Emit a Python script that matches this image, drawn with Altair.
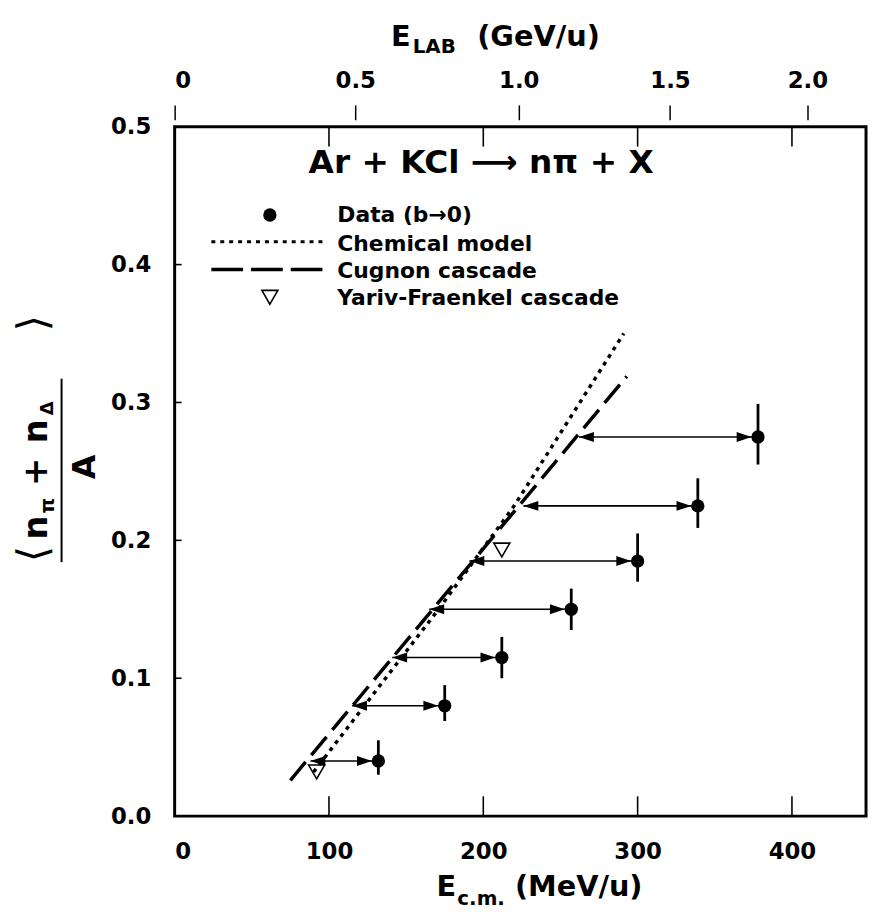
import altair as alt
import pandas as pd

# ---- data ----
ecm = [132, 175, 212, 257, 300, 339, 378]
ratio = [0.040, 0.080, 0.115, 0.150, 0.185, 0.225, 0.275]
err_lo = [0.030, 0.069, 0.100, 0.135, 0.170, 0.209, 0.255]
err_hi = [0.055, 0.095, 0.130, 0.165, 0.205, 0.245, 0.299]
ecm_shift = [88, 115, 141, 165, 191, 226, 262]

chem_x = [90, 171, 220, 291]
chem_y = [0.032, 0.150, 0.225, 0.350]

cug_x = [75, 293]
cug_y = [0.026, 0.319]

yf_x = [92, 212]
yf_y = [0.032, 0.193]

bottom_ticks = [0, 100, 200, 300, 400]
inner_ticks = [100, 200, 300, 400]
y_ticks = [0.0, 0.1, 0.2, 0.3, 0.4, 0.5]
y_inner_ticks = [0.1, 0.2, 0.3, 0.4]
elab_labels = ["0", "0.5", "1.0", "1.5", "2.0"]
elab_ecm = [0, 117, 223, 321, 410]

legend_labels = ["Data (b\u21920)", "Chemical model", "Cugnon cascade", "Yariv-Fraenkel cascade"]

# ---- layout ----
W, H = 697, 695
FONT = "DejaVu Sans"
BOLD = "bold"
XD = [0, 448]
YD = [0, 0.5]

pts = pd.DataFrame({"x": ecm, "y": ratio, "lo": err_lo, "hi": err_hi, "xs": ecm_shift})
chem = pd.DataFrame({"x": chem_x, "y": chem_y})
cug = pd.DataFrame({"x": cug_x, "y": cug_y})
yf = pd.DataFrame({"x": yf_x, "y": yf_y})

yaxis = alt.Axis(values=y_ticks, format=".1f", tickSize=0, labelPadding=24, labelFontSize=23,
                 labelFont=FONT, labelFontWeight=BOLD, labelColor="black", domain=False,
                 grid=False, title=None)


def X(field, axis=None):
    return alt.X(f"{field}:Q", scale=alt.Scale(domain=XD, nice=False, zero=False), axis=axis)


def Y(field):
    return alt.Y(f"{field}:Q", scale=alt.Scale(domain=YD, nice=False, zero=False), axis=yaxis)


bottom_axis = alt.Axis(orient="bottom", values=bottom_ticks, tickSize=0, labelPadding=25,
                       labelFontSize=23, labelFont=FONT, labelFontWeight=BOLD, labelColor="black",
                       domain=False, grid=False, title=None)

expr = "''"
for lab, pos in zip(elab_labels[::-1], elab_ecm[::-1]):
    expr = f"datum.value == {pos} ? '{lab}' : ({expr})"

top_axis = alt.Axis(orient="top", values=elab_ecm, labelExpr=expr, tickSize=15, tickWidth=1.5,
                    tickColor="black", offset=7, labelPadding=13, labelFontSize=23,
                    labelFont=FONT, labelFontWeight=BOLD, labelColor="black",
                    domain=False, grid=False, title=None)

cug_line = alt.Chart(cug).mark_line(color="black", strokeWidth=3.5, strokeDash=[24, 9]).encode(
    x=X("x", bottom_axis), y=Y("y"))

chem_line = alt.Chart(chem).mark_line(color="black", strokeWidth=3.5, strokeDash=[4, 5]).encode(
    x=X("x", top_axis), y=Y("y"), order="x:Q")

arrows = alt.Chart(pts).mark_rule(color="black", strokeWidth=1.6).encode(
    x=X("xs"), x2="x", y=Y("y"))

left_heads = alt.Chart(pts).mark_point(shape="M0,0L3,-1L3,1Z", filled=True, color="black",
                                       size=100, opacity=1).encode(x=X("xs"), y=Y("y"))
right_heads = alt.Chart(pts).mark_point(shape="M-1.3,0L-4.3,-1L-4.3,1Z", filled=True, color="black",
                                        size=100, opacity=1).encode(x=X("x"), y=Y("y"))

errbars = alt.Chart(pts).mark_rule(color="black", strokeWidth=2.8).encode(
    x=X("x"), y=Y("lo"), y2="hi")

dots = alt.Chart(pts).mark_point(shape="circle", filled=True, color="black", size=180,
                                 opacity=1).encode(x=X("x"), y=Y("y"))

tris = alt.Chart(yf).mark_point(shape="triangle-down", filled=False, color="black", size=260,
                                strokeWidth=1.6, opacity=1).encode(x=X("x"), y=Y("y"))

tick_df = pd.DataFrame({"x": inner_ticks})
bticks = alt.Chart(tick_df).mark_rule(color="black", strokeWidth=1.6).encode(
    x=X("x"), y=alt.value(H), y2=alt.value(H - 20))
tticks = alt.Chart(tick_df).mark_rule(color="black", strokeWidth=1.6).encode(
    x=X("x"), y=alt.value(0), y2=alt.value(20))
lticks = alt.Chart(pd.DataFrame({"y": y_inner_ticks})).mark_rule(color="black", strokeWidth=1.6).encode(
    y=Y("y"), x=alt.value(0), x2=alt.value(7))


def txt(s, x, y, size, align="left", angle=0, baseline="middle", weight=BOLD):
    return alt.Chart(pd.DataFrame({"t": [s]})).mark_text(
        font=FONT, fontSize=size, fontWeight=weight, color="black", align=align,
        baseline=baseline, angle=angle
    ).encode(x=alt.value(x), y=alt.value(y), text="t:N")


one = pd.DataFrame({"a": [0]})

# reaction title and legend
title = txt("Ar + KCl \u27F6 n\u03C0 + X", 309, 37, 33, align="center")
leg_dot = alt.Chart(one).mark_point(shape="circle", filled=True, color="black", size=180,
                                    opacity=1).encode(x=alt.value(96), y=alt.value(89))
leg_dotted = alt.Chart(one).mark_rule(color="black", strokeWidth=3, strokeDash=[4, 5]).encode(
    x=alt.value(37), x2=alt.value(149), y=alt.value(116))
leg_dashed = alt.Chart(one).mark_rule(color="black", strokeWidth=3.5, strokeDash=[32, 8]).encode(
    x=alt.value(37), x2=alt.value(149), y=alt.value(144))
leg_tri = alt.Chart(one).mark_point(shape="triangle-down", filled=False, color="black", size=260,
                                    strokeWidth=1.6, opacity=1).encode(x=alt.value(96), y=alt.value(172))
leg_texts = [txt(s, 164, yy, 22) for s, yy in zip(legend_labels, [89, 118, 146, 173])]

# axis titles built from pieces (subscripts)
top_title = [txt("E", 218, -90, 29), txt("LAB", 240, -80, 20), txt("(GeV/u)", 305, -90, 29)]
bot_title = [txt("E", 264, 767, 29), txt("c.m.", 285, 779, 20), txt("(MeV/u)", 343, 767, 29)]

yt = [
    txt("\u27E8", -142, 431, 42, align="center", angle=270, weight="normal"),
    txt("n", -139, 404, 34, align="center", angle=270),
    txt("\u03C0", -128, 382, 20, align="center", angle=270),
    txt("+", -139, 348, 34, align="center", angle=270),
    txt("n", -139, 307, 34, align="center", angle=270),
    txt("\u0394", -128, 284, 18, align="center", angle=270),
    txt("\u27E9", -142, 198, 42, align="center", angle=270, weight="normal"),
    txt("A", -90, 343, 32, align="center", angle=270),
]
ybar = alt.Chart(one).mark_rule(color="black", strokeWidth=2).encode(
    x=alt.value(-114), y=alt.value(254), y2=alt.value(439))

chart = alt.layer(
    cug_line, chem_line, arrows, left_heads, right_heads, errbars, dots, tris,
    bticks, tticks, lticks,
    title, leg_dot, leg_dotted, leg_dashed, leg_tri, *leg_texts, *top_title, *bot_title, *yt, ybar
).resolve_axis(x="independent").properties(
    width=W, height=H,
    autosize=alt.AutoSizeParams(type="none"),
    padding={"left": 168, "top": 116, "right": 3, "bottom": 96},
).configure(background="white").configure_view(stroke="black", strokeWidth=3)

chart.save("out.html", embed_options={"renderer": "svg", "actions": False})
